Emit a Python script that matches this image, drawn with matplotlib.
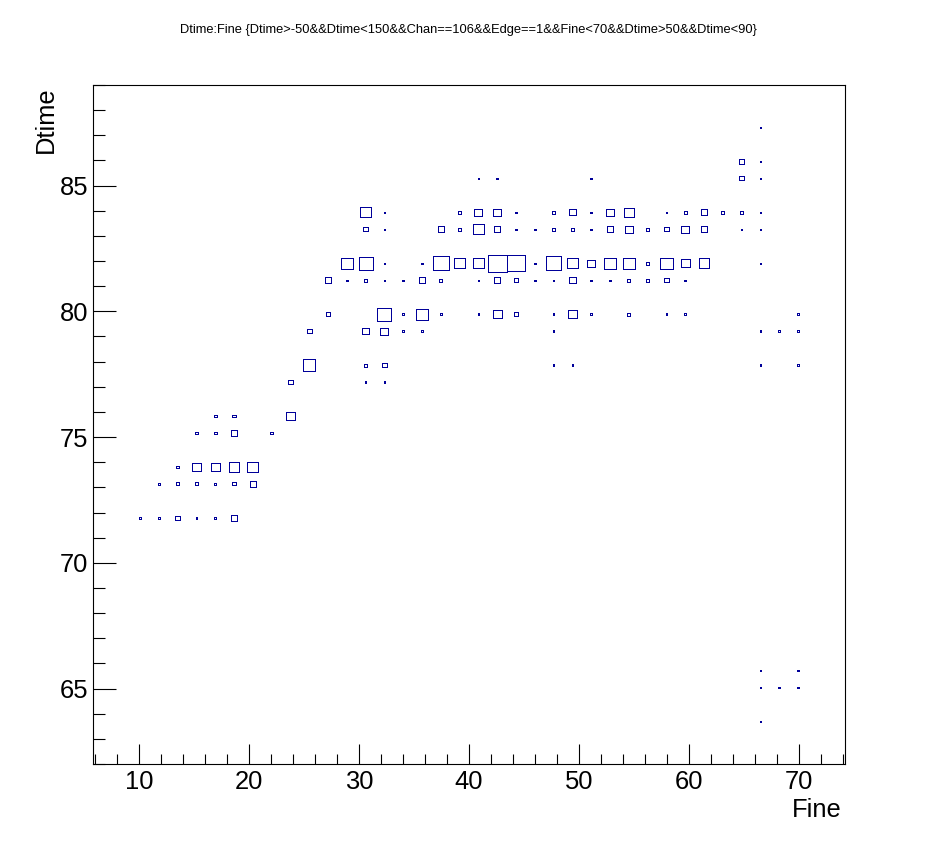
"""
Dtime vs Fine box plot (ROOT-style TH2 "BOX" look)
"""

import numpy as np
import matplotlib
matplotlib.use('Agg')
import matplotlib.pyplot as plt
import matplotlib.patches as mpatches
from matplotlib.ticker import MultipleLocator

plt.rcParams['font.family'] = ['Liberation Sans', 'DejaVu Sans']

# histogram range / binning (40 x 40, as TTree::Draw does)
XMIN, XMAX = 5.82, 74.18
YMIN, YMAX = 62.0, 89.0
NBX, NBY = 40, 40

# one row per Dtime bin: Fine positions and box contents
dtime_rows = [71.8, 73.1, 73.8, 75.2, 75.8, 77.2, 77.9, 79.2, 79.9,
              81.2, 81.9, 83.3, 83.9, 85.3, 86.0, 87.3, 65.7, 65.0, 63.7]

fine_rows = [
    [10.1, 11.8, 13.5, 15.2, 16.9, 18.6],
    [11.8, 13.5, 15.2, 16.9, 18.6, 20.3],
    [13.5, 15.2, 16.9, 18.6, 20.3],
    [15.2, 16.9, 18.6, 22.1],
    [16.9, 18.6, 23.8],
    [23.8, 30.6, 32.3],
    [25.5, 30.6, 32.3, 47.7, 49.4, 66.5, 69.9],
    [25.5, 30.6, 32.3, 34.0, 35.7, 47.7, 66.5, 68.2, 69.9],
    [27.2, 32.3, 34.0, 35.7, 37.4, 40.9, 42.6, 44.3, 47.7, 49.4, 51.1, 54.5, 58.0, 59.7, 69.9],
    [27.2, 28.9, 30.6, 32.3, 34.0, 35.7, 37.4, 40.9, 42.6, 44.3, 46.0, 47.7, 49.4, 51.1,
     52.8, 54.5, 56.3, 58.0, 59.7],
    [28.9, 30.6, 32.3, 35.7, 37.4, 39.2, 40.9, 42.6, 44.3, 46.0, 47.7, 49.4, 51.1, 52.8,
     54.5, 56.3, 58.0, 59.7, 61.4, 66.5],
    [30.6, 32.3, 37.4, 39.2, 40.9, 42.6, 44.3, 46.0, 47.7, 49.4, 51.1, 52.8, 54.5, 56.3,
     58.0, 59.7, 61.4, 64.8, 66.5],
    [30.6, 32.3, 39.2, 40.9, 42.6, 44.3, 47.7, 49.4, 51.1, 52.8, 54.5, 58.0, 59.7, 61.4,
     63.1, 64.8, 66.5],
    [40.9, 42.6, 51.1, 64.8, 66.5],
    [64.8, 66.5],
    [66.5],
    [66.5, 69.9],
    [66.5, 68.2, 69.9],
    [66.5],
]

count_rows = [
    [1, 1, 3, 1, 1, 4],
    [1, 2, 2, 1, 2, 4],
    [2, 6, 6, 7, 7],
    [2, 2, 4, 2],
    [2, 2, 6],
    [3, 1, 1],
    [8, 2, 3, 1, 1, 1, 1],
    [3, 4, 5, 1, 1, 1, 1, 1, 1],
    [3, 9, 1, 8, 1, 1, 6, 3, 1, 6, 1, 2, 1, 1, 1],
    [4, 1, 2, 1, 1, 4, 2, 1, 4, 3, 1, 1, 4, 1, 1, 2, 2, 3, 1],
    [8, 9, 1, 1, 10, 7, 7, 12, 11, 1, 10, 7, 5, 8, 8, 2, 8, 6, 7, 1],
    [3, 1, 4, 2, 7, 4, 1, 1, 2, 2, 1, 4, 5, 2, 3, 5, 4, 1, 1],
    [7, 1, 2, 5, 5, 1, 2, 4, 1, 5, 6, 1, 2, 4, 2, 2, 1],
    [1, 1, 1, 3, 1],
    [3, 1],
    [1],
    [1, 1],
    [1, 1, 1],
    [1],
]

TITLE = 'Dtime:Fine {Dtime>-50&&Dtime<150&&Chan==106&&Edge==1&&Fine<70&&Dtime>50&&Dtime<90}'
BOX_COLOR = '#000099'


def fill_hist():
    fine, dtime, w = [], [], []
    for d, fr, cr in zip(dtime_rows, fine_rows, count_rows):
        fine += fr
        dtime += [d] * len(fr)
        w += cr
    H, xe, ye = np.histogram2d(fine, dtime, bins=[NBX, NBY],
                               range=[[XMIN, XMAX], [YMIN, YMAX]], weights=w)
    return H, xe, ye


H, xedges, yedges = fill_hist()
zmax = H.max()

fig = plt.figure(figsize=(9.38, 8.49), dpi=100)
ax = fig.add_axes([93 / 938, 1 - 764 / 849, 752 / 938, 679 / 849])

# boxes: side proportional to the bin content
for ix in range(NBX):
    for iy in range(NBY):
        z = H[ix, iy]
        if z <= 0:
            continue
        dx = (xedges[ix + 1] - xedges[ix]) * z / zmax
        dy = (yedges[iy + 1] - yedges[iy]) * z / zmax
        xc = 0.5 * (xedges[ix] + xedges[ix + 1])
        yc = 0.5 * (yedges[iy] + yedges[iy + 1])
        ax.add_patch(mpatches.Rectangle((xc - dx / 2, yc - dy / 2), dx, dy,
                                        facecolor='none', edgecolor=BOX_COLOR,
                                        linewidth=0.72, antialiased=False, zorder=2))

ax.set_xlim(XMIN, XMAX)
ax.set_ylim(YMIN, YMAX)

ax.xaxis.set_major_locator(MultipleLocator(10))
ax.xaxis.set_minor_locator(MultipleLocator(2))
ax.yaxis.set_major_locator(MultipleLocator(5))
ax.yaxis.set_minor_locator(MultipleLocator(1))

ax.tick_params(which='both', direction='in', top=False, right=False,
               width=0.8, color='black', labelsize=18.4)
ax.tick_params(axis='x', which='major', length=14.7, pad=4)
ax.tick_params(axis='x', which='minor', length=7.4)
ax.tick_params(axis='y', which='major', length=16.5, pad=3.6)
ax.tick_params(axis='y', which='minor', length=8.8)

for sp in ax.spines.values():
    sp.set_linewidth(0.8)

fig.text(0.4995, 1 - 30 / 849, TITLE, ha='center', va='center', fontsize=9.3)
fig.text(842 / 938, 1 - 817 / 849, 'Fine', ha='right', va='baseline', fontsize=18.4)
fig.text(53.3 / 938, 1 - 86.7 / 849, 'Dtime', rotation=90, rotation_mode='anchor',
         ha='right', va='baseline', fontsize=18.4)

fig.savefig('out.png', dpi=100)
